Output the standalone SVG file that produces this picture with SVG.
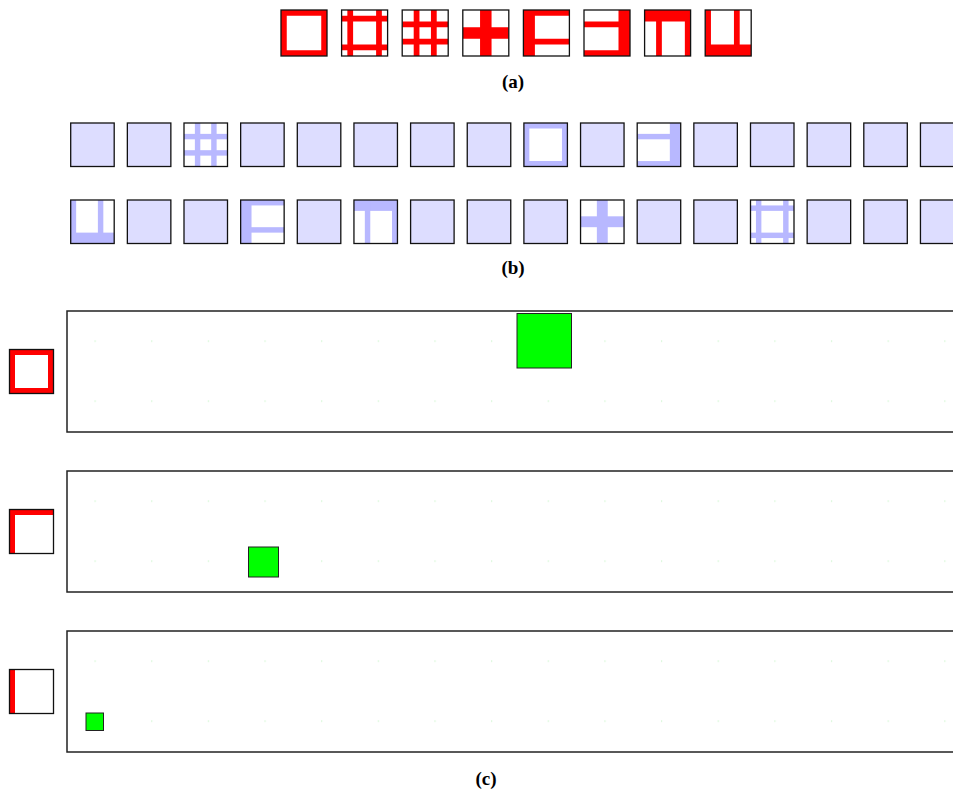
<svg xmlns="http://www.w3.org/2000/svg" xmlns:xlink="http://www.w3.org/1999/xlink" width="953" height="791" viewBox="0 0 953 791">
<style>
.bx{fill:none;stroke:#111;stroke-width:1.3}
.plain{fill:#ddddff;stroke:#111;stroke-width:1.3}
.wbg{fill:#fff}
.red{color:#ff0000}
.blue{color:#b8b8ff}
.panel{fill:#fff;stroke:#222;stroke-width:1.5}
.green{fill:#00ff00;stroke:#222;stroke-width:1}
.lbl{font-family:"Liberation Serif","Times New Roman",serif;font-weight:bold;font-size:19px;text-anchor:middle;fill:#000}
</style>
<defs>
<symbol id="p-frame" viewBox="0 0 8 8"><path fill="currentColor" fill-rule="evenodd" d="M0 0H8V8H0Z M1 1V7H7V1Z"/></symbol>
<symbol id="p-double" viewBox="0 0 8 8"><g fill="currentColor"><rect x="1" y="0" width="1" height="8"/><rect x="6" y="0" width="1" height="8"/><rect x="0" y="1" width="8" height="1"/><rect x="0" y="6" width="8" height="1"/></g></symbol>
<symbol id="p-grid" viewBox="0 0 8 8"><g fill="currentColor"><rect x="2" y="0" width="1" height="8"/><rect x="5" y="0" width="1" height="8"/><rect x="0" y="2" width="8" height="1"/><rect x="0" y="5" width="8" height="1"/></g></symbol>
<symbol id="p-cross" viewBox="0 0 8 8"><g fill="currentColor"><rect x="3" y="0" width="2" height="8"/><rect x="0" y="3" width="8" height="2"/></g></symbol>
<symbol id="p-e5" viewBox="0 0 8 8"><g fill="currentColor"><rect x="0" y="0" width="2" height="8"/><rect x="0" y="0" width="8" height="1"/><rect x="0" y="5" width="8" height="1"/></g></symbol>
<symbol id="p-e6" viewBox="0 0 8 8"><g fill="currentColor"><rect x="6" y="0" width="2" height="8"/><rect x="0" y="7" width="8" height="1"/><rect x="0" y="2" width="8" height="1"/></g></symbol>
<symbol id="p-e7" viewBox="0 0 8 8"><g fill="currentColor"><rect x="0" y="0" width="8" height="2"/><rect x="7" y="0" width="1" height="8"/><rect x="2" y="0" width="1" height="8"/></g></symbol>
<symbol id="p-e8" viewBox="0 0 8 8"><g fill="currentColor"><rect x="0" y="6" width="8" height="2"/><rect x="0" y="0" width="1" height="8"/><rect x="5" y="0" width="1" height="8"/></g></symbol>
<symbol id="p-tl" viewBox="0 0 8 8"><g fill="currentColor"><rect x="0" y="0" width="8" height="1"/><rect x="0" y="0" width="1" height="8"/></g></symbol>
<symbol id="p-l" viewBox="0 0 8 8"><rect fill="currentColor" x="0" y="0" width="1" height="8"/></symbol>
<pattern id="dots" patternUnits="userSpaceOnUse" x="94.5" y="29.5" width="56.65" height="60"><rect x="0" y="0" width="1.2" height="1.2" fill="#c8f5c8"/></pattern>
</defs>

<!-- (a) -->
<g id="a-icons" class="red">
<g id="a1"><rect class="wbg" x="281" y="10" width="46" height="46"/><use xlink:href="#p-frame" x="281" y="10" width="46" height="46"/><rect class="bx" x="281" y="10" width="46" height="46"/></g>
<g id="a2"><rect class="wbg" x="341.6" y="10" width="46" height="46"/><use xlink:href="#p-double" x="341.6" y="10" width="46" height="46"/><rect class="bx" x="341.6" y="10" width="46" height="46"/></g>
<g id="a3"><rect class="wbg" x="402.2" y="10" width="46" height="46"/><use xlink:href="#p-grid" x="402.2" y="10" width="46" height="46"/><rect class="bx" x="402.2" y="10" width="46" height="46"/></g>
<g id="a4"><rect class="wbg" x="462.8" y="10" width="46" height="46"/><use xlink:href="#p-cross" x="462.8" y="10" width="46" height="46"/><rect class="bx" x="462.8" y="10" width="46" height="46"/></g>
<g id="a5"><rect class="wbg" x="523.4" y="10" width="46" height="46"/><use xlink:href="#p-e5" x="523.4" y="10" width="46" height="46"/><rect class="bx" x="523.4" y="10" width="46" height="46"/></g>
<g id="a6"><rect class="wbg" x="584" y="10" width="46" height="46"/><use xlink:href="#p-e6" x="584" y="10" width="46" height="46"/><rect class="bx" x="584" y="10" width="46" height="46"/></g>
<g id="a7"><rect class="wbg" x="644.6" y="10" width="46" height="46"/><use xlink:href="#p-e7" x="644.6" y="10" width="46" height="46"/><rect class="bx" x="644.6" y="10" width="46" height="46"/></g>
<g id="a8"><rect class="wbg" x="705.2" y="10" width="46" height="46"/><use xlink:href="#p-e8" x="705.2" y="10" width="46" height="46"/><rect class="bx" x="705.2" y="10" width="46" height="46"/></g>
</g>
<text class="lbl" x="513" y="88">(a)</text>

<!-- (b) row 1 -->
<g id="b-row1" class="blue">
<rect id="b1-1" class="plain" x="70.7" y="123" width="43.5" height="43.5"/>
<rect id="b1-2" class="plain" x="127.35" y="123" width="43.5" height="43.5"/>
<g id="b1-3"><rect class="wbg" x="184" y="123" width="43.5" height="43.5"/><use xlink:href="#p-grid" x="184" y="123" width="43.5" height="43.5"/><rect class="bx" x="184" y="123" width="43.5" height="43.5"/></g>
<rect id="b1-4" class="plain" x="240.65" y="123" width="43.5" height="43.5"/>
<rect id="b1-5" class="plain" x="297.3" y="123" width="43.5" height="43.5"/>
<rect id="b1-6" class="plain" x="353.95" y="123" width="43.5" height="43.5"/>
<rect id="b1-7" class="plain" x="410.6" y="123" width="43.5" height="43.5"/>
<rect id="b1-8" class="plain" x="467.25" y="123" width="43.5" height="43.5"/>
<g id="b1-9"><rect class="wbg" x="523.9" y="123" width="43.5" height="43.5"/><use xlink:href="#p-frame" x="523.9" y="123" width="43.5" height="43.5"/><rect class="bx" x="523.9" y="123" width="43.5" height="43.5"/></g>
<rect id="b1-10" class="plain" x="580.55" y="123" width="43.5" height="43.5"/>
<g id="b1-11"><rect class="wbg" x="637.2" y="123" width="43.5" height="43.5"/><use xlink:href="#p-e6" x="637.2" y="123" width="43.5" height="43.5"/><rect class="bx" x="637.2" y="123" width="43.5" height="43.5"/></g>
<rect id="b1-12" class="plain" x="693.85" y="123" width="43.5" height="43.5"/>
<rect id="b1-13" class="plain" x="750.5" y="123" width="43.5" height="43.5"/>
<rect id="b1-14" class="plain" x="807.15" y="123" width="43.5" height="43.5"/>
<rect id="b1-15" class="plain" x="863.8" y="123" width="43.5" height="43.5"/>
<rect id="b1-16" class="plain" x="920.45" y="123" width="43.5" height="43.5"/>
</g>

<!-- (b) row 2 -->
<g id="b-row2" class="blue">
<g id="b2-1"><rect class="wbg" x="70.7" y="200" width="43.5" height="43.5"/><use xlink:href="#p-e8" x="70.7" y="200" width="43.5" height="43.5"/><rect class="bx" x="70.7" y="200" width="43.5" height="43.5"/></g>
<rect id="b2-2" class="plain" x="127.35" y="200" width="43.5" height="43.5"/>
<rect id="b2-3" class="plain" x="184" y="200" width="43.5" height="43.5"/>
<g id="b2-4"><rect class="wbg" x="240.65" y="200" width="43.5" height="43.5"/><use xlink:href="#p-e5" x="240.65" y="200" width="43.5" height="43.5"/><rect class="bx" x="240.65" y="200" width="43.5" height="43.5"/></g>
<rect id="b2-5" class="plain" x="297.3" y="200" width="43.5" height="43.5"/>
<g id="b2-6"><rect class="wbg" x="353.95" y="200" width="43.5" height="43.5"/><use xlink:href="#p-e7" x="353.95" y="200" width="43.5" height="43.5"/><rect class="bx" x="353.95" y="200" width="43.5" height="43.5"/></g>
<rect id="b2-7" class="plain" x="410.6" y="200" width="43.5" height="43.5"/>
<rect id="b2-8" class="plain" x="467.25" y="200" width="43.5" height="43.5"/>
<rect id="b2-9" class="plain" x="523.9" y="200" width="43.5" height="43.5"/>
<g id="b2-10"><rect class="wbg" x="580.55" y="200" width="43.5" height="43.5"/><use xlink:href="#p-cross" x="580.55" y="200" width="43.5" height="43.5"/><rect class="bx" x="580.55" y="200" width="43.5" height="43.5"/></g>
<rect id="b2-11" class="plain" x="637.2" y="200" width="43.5" height="43.5"/>
<rect id="b2-12" class="plain" x="693.85" y="200" width="43.5" height="43.5"/>
<g id="b2-13"><rect class="wbg" x="750.5" y="200" width="43.5" height="43.5"/><use xlink:href="#p-double" x="750.5" y="200" width="43.5" height="43.5"/><rect class="bx" x="750.5" y="200" width="43.5" height="43.5"/></g>
<rect id="b2-14" class="plain" x="807.15" y="200" width="43.5" height="43.5"/>
<rect id="b2-15" class="plain" x="863.8" y="200" width="43.5" height="43.5"/>
<rect id="b2-16" class="plain" x="920.45" y="200" width="43.5" height="43.5"/>
</g>
<text class="lbl" x="513" y="274">(b)</text>

<!-- (c) -->
<g id="c1">
<g class="red"><rect class="wbg" x="9.5" y="349.5" width="44" height="44"/><use xlink:href="#p-frame" x="9.5" y="349.5" width="44" height="44"/><rect class="bx" x="9.5" y="349.5" width="44" height="44"/></g>
<g transform="translate(0,311)"><rect class="panel" x="67" y="0" width="900" height="121"/><rect x="67" y="0" width="900" height="121" fill="url(#dots)"/></g>
<rect class="green" x="517" y="313.5" width="54.5" height="54.5"/>
</g>
<g id="c2">
<g class="red"><rect class="wbg" x="9.5" y="509.5" width="44" height="44"/><use xlink:href="#p-tl" x="9.5" y="509.5" width="44" height="44"/><rect class="bx" x="9.5" y="509.5" width="44" height="44"/></g>
<g transform="translate(0,471)"><rect class="panel" x="67" y="0" width="900" height="121"/><rect x="67" y="0" width="900" height="121" fill="url(#dots)"/></g>
<rect class="green" x="248.5" y="547" width="30" height="30"/>
</g>
<g id="c3">
<g class="red"><rect class="wbg" x="9.5" y="669.5" width="44" height="44"/><use xlink:href="#p-l" x="9.5" y="669.5" width="44" height="44"/><rect class="bx" x="9.5" y="669.5" width="44" height="44"/></g>
<g transform="translate(0,631)"><rect class="panel" x="67" y="0" width="900" height="121"/><rect x="67" y="0" width="900" height="121" fill="url(#dots)"/></g>
<rect class="green" x="86" y="713" width="17.5" height="17.5"/>
</g>
<text class="lbl" x="486" y="785">(c)</text>
<g id="connectors"/>
</svg>
